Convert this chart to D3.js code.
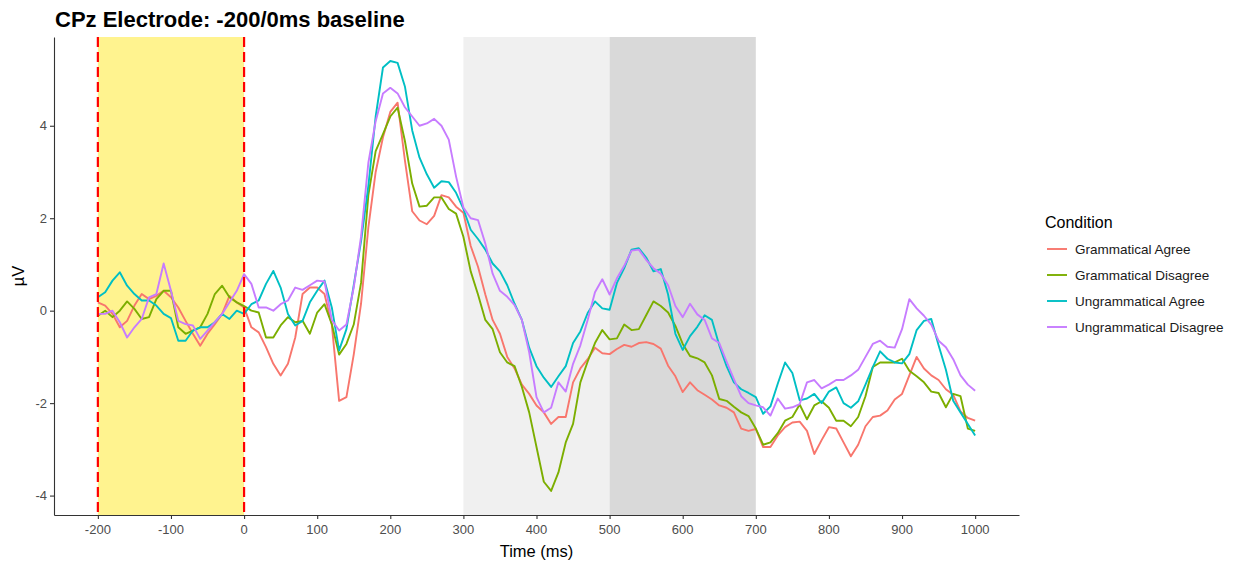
<!DOCTYPE html>
<html>
<head>
<meta charset="utf-8">
<script src="https://cdn.jsdelivr.net/npm/d3@7/dist/d3.min.js"></script>
<style>
    html, body { margin: 0; padding: 0; background: #fff; overflow: hidden; }
    #graph { display: block; }
    svg text { font-family: "Liberation Sans", Arial, sans-serif; }
</style>
</head>
<body>
<svg id="graph"></svg>
<script>
// time points, ms (every 10 ms)
const times = d3.range(-200, 1001, 10);

const conditions = ['Grammatical Agree', 'Grammatical Disagree', 'Ungrammatical Agree', 'Ungrammatical Disagree'];
const colors = ['#F8766D', '#7CAE00', '#00BFC4', '#C77CFF'];

// µV values
const gramAgree = [
    0.18, 0.11, -0.07, -0.36, -0.22, 0.11, 0.36, 0.25, 0.32, 0.43,
    0.29, 0.07, -0.22, -0.50, -0.76, -0.50, -0.29, -0.07, 0.32, 0.18,
    0.07, -0.36, -0.47, -0.79, -1.15, -1.40, -1.15, -0.58, 0.36, 0.50,
    0.50, 0.36, -0.30, -1.95, -1.87, -0.95, 0.15, 1.80, 3.00, 3.75,
    4.30, 4.50, 3.25, 2.15, 1.95, 1.87, 2.05, 2.50, 2.45, 2.25,
    2.12, 1.40, 0.95, 0.35, -0.20, -0.50, -1.00, -1.25, -1.60, -1.80,
    -2.05, -2.20, -2.45, -2.30, -2.30, -1.55, -1.25, -1.05, -0.80, -0.92,
    -0.94, -0.83, -0.74, -0.78, -0.70, -0.68, -0.72, -0.82, -1.19, -1.42,
    -1.76, -1.55, -1.72, -1.82, -1.92, -2.05, -2.10, -2.20, -2.55, -2.60,
    -2.56, -2.95, -2.95, -2.70, -2.52, -2.42, -2.40, -2.60, -3.10, -2.80,
    -2.52, -2.55, -2.85, -3.15, -2.90, -2.50, -2.30, -2.27, -2.16, -1.92,
    -1.80, -1.40, -1.00, -1.25, -1.40, -1.50, -1.70, -1.82, -2.18, -2.32,
    -2.38
];
const gramDisagree = [
    -0.11, 0.00, -0.14, 0.00, 0.20, 0.04, -0.18, -0.14, 0.25, 0.43,
    0.43, -0.36, -0.50, -0.43, -0.36, -0.07, 0.36, 0.54, 0.29, 0.18,
    0.10, 0.00, -0.04, -0.58, -0.58, -0.32, -0.14, -0.25, -0.22, -0.50,
    -0.04, 0.14, -0.29, -0.95, -0.72, -0.30, 0.60, 2.50, 3.45, 3.82,
    4.20, 4.39, 3.67, 2.75, 2.25, 2.27, 2.45, 2.45, 2.20, 2.10,
    1.60, 0.85, 0.35, -0.20, -0.40, -0.90, -1.12, -1.20, -1.65, -2.20,
    -2.95, -3.70, -3.90, -3.50, -2.85, -2.45, -1.55, -1.10, -0.70, -0.42,
    -0.62, -0.60, -0.30, -0.42, -0.40, -0.10, 0.20, 0.10, -0.04, -0.33,
    -0.72, -0.98, -1.03, -1.12, -1.40, -1.91, -1.95, -2.08, -2.20, -2.28,
    -2.55, -2.90, -2.85, -2.65, -2.38, -2.30, -2.03, -2.35, -2.05, -1.96,
    -2.10, -2.38, -2.38, -2.50, -2.30, -1.85, -1.22, -1.12, -1.12, -1.12,
    -1.04, -1.30, -1.42, -1.55, -1.75, -1.78, -2.09, -1.80, -1.85, -2.55,
    -2.60
];
const ungramAgree = [
    0.29, 0.40, 0.65, 0.83, 0.54, 0.36, 0.22, 0.22, 0.11, -0.07,
    -0.16, -0.65, -0.65, -0.43, -0.36, -0.36, -0.25, -0.07, -0.18, 0.00,
    -0.07, 0.14, 0.22, 0.58, 0.86, 0.50, -0.07, -0.32, -0.22, 0.18,
    0.43, 0.65, 0.07, -0.86, -0.40, 0.55, 1.50, 2.70, 4.20, 5.26,
    5.40, 5.36, 4.85, 3.90, 3.31, 2.95, 2.66, 2.80, 2.78, 2.55,
    2.20, 1.75, 1.55, 1.32, 1.02, 0.85, 0.55, 0.15, -0.20, -0.80,
    -1.20, -1.45, -1.65, -1.42, -1.20, -0.70, -0.45, -0.05, 0.20, 0.05,
    0.02, 0.60, 0.92, 1.32, 1.35, 1.15, 0.85, 0.90, 0.35, -0.50,
    -0.85, -0.55, -0.35, -0.10, -0.20, -0.75, -1.20, -1.55, -1.70, -1.78,
    -1.87, -2.23, -2.07, -1.58, -1.12, -1.35, -1.94, -1.90, -1.80, -2.00,
    -1.75, -1.66, -2.00, -2.10, -1.96, -1.60, -1.22, -0.88, -1.04, -1.12,
    -1.14, -0.94, -0.42, -0.22, -0.18, -0.75, -1.28, -1.95, -2.20, -2.45,
    -2.70
];
const ungramDisagree = [
    -0.07, -0.07, 0.00, -0.25, -0.58, -0.36, -0.18, 0.29, 0.36, 1.02,
    0.43, -0.22, -0.29, -0.32, -0.61, -0.43, -0.25, -0.07, 0.18, 0.43,
    0.79, 0.58, 0.07, 0.07, 0.00, 0.14, 0.22, 0.50, 0.45, 0.55,
    0.65, 0.63, -0.20, -0.43, -0.30, 0.50, 1.60, 3.20, 4.10, 4.70,
    4.82, 4.70, 4.40, 4.20, 4.00, 4.05, 4.15, 4.00, 3.70, 2.90,
    2.23, 2.00, 1.96, 1.45, 0.80, 0.43, 0.30, 0.12, -0.20, -0.90,
    -1.87, -2.20, -2.10, -1.55, -1.75, -1.15, -0.75, -0.20, 0.40, 0.68,
    0.35, 0.70, 0.97, 1.30, 1.32, 1.10, 0.92, 0.80, 0.55, 0.10,
    -0.14, 0.15, -0.08, -0.20, -0.60, -0.70, -1.10, -1.48, -1.85, -2.00,
    -2.05, -2.09, -2.27, -1.90, -2.12, -2.09, -2.02, -1.55, -1.50, -1.68,
    -1.60, -1.50, -1.50, -1.40, -1.28, -1.00, -0.72, -0.65, -0.78, -0.80,
    -0.40, 0.25, 0.05, -0.11, -0.30, -0.65, -0.79, -1.05, -1.40, -1.60,
    -1.73
];
const seriesValues = [gramAgree, gramDisagree, ungramAgree, ungramDisagree];

// shaded windows [start, end, fill]
const windows = [[-200, 0, '#FFF38F'], [300, 500, '#F0F0F0'], [500, 700, '#D9D9D9']];
const baselineMarks = [-200, 0];

const xTicks = d3.range(-200, 1001, 100);
const yTicks = [-4, -2, 0, 2, 4];

const width = 1242, height = 565;
const margin = { top: 37, right: 223, bottom: 50, left: 54 };
const innerWidth = width - margin.left - margin.right;
const innerHeight = height - margin.top - margin.bottom;

const svg = d3.select('#graph')
    .attr('width', width)
    .attr('height', height);

// ggplot style 5% expansion
const xScale = d3.scaleLinear()
    .domain([-260, 1060])
    .range([margin.left, margin.left + innerWidth]);
const yScale = d3.scaleLinear()
    .domain([-4.42, 5.92])
    .range([margin.top + innerHeight, margin.top]);

const plotTop = margin.top, plotBottom = margin.top + innerHeight;

svg.selectAll('.window').data(windows).enter().append('rect')
    .attr('class', 'window')
    .attr('x', d => xScale(d[0]))
    .attr('width', d => xScale(d[1]) - xScale(d[0]))
    .attr('y', plotTop)
    .attr('height', innerHeight)
    .attr('fill', d => d[2]);

const line = d3.line()
    .x((d, i) => xScale(times[i]))
    .y(d => yScale(d));

svg.selectAll('.erp').data(seriesValues).enter().append('path')
    .attr('class', 'erp')
    .attr('d', line)
    .attr('fill', 'none')
    .attr('stroke', (d, i) => colors[i])
    .attr('stroke-width', 1.9)
    .attr('stroke-linejoin', 'round');

svg.selectAll('.vmark').data(baselineMarks).enter().append('line')
    .attr('class', 'vmark')
    .attr('x1', d => xScale(d))
    .attr('x2', d => xScale(d))
    .attr('y1', plotTop)
    .attr('y2', plotBottom)
    .attr('stroke', '#FF0000')
    .attr('stroke-width', 2.2)
    .attr('stroke-dasharray', '10,5');

// axes: d3 draws line + ticks, labels are placed by hand from the same scales
const xAxis = d3.axisBottom(xScale).tickValues(xTicks).tickFormat('').tickSize(4).tickSizeOuter(0);
const yAxis = d3.axisLeft(yScale).tickValues(yTicks).tickFormat('').tickSize(4).tickSizeOuter(0);

const gx = svg.append('g')
    .attr('transform', `translate(0, ${plotBottom})`)
    .call(xAxis);
const gy = svg.append('g')
    .attr('transform', `translate(${margin.left}, 0)`)
    .call(yAxis);

[gx, gy].forEach(g => {
    g.select('.domain').attr('stroke', '#333').attr('stroke-width', 1.1);
    g.selectAll('.tick line').attr('stroke', '#333').attr('stroke-width', 1.1);
    g.selectAll('.tick text').remove();
});

svg.selectAll('.xlab').data(xTicks).enter().append('text')
    .attr('class', 'xlab')
    .attr('x', d => xScale(d))
    .attr('y', plotBottom + 19)
    .attr('text-anchor', 'middle')
    .attr('fill', '#4D4D4D')
    .style('font-size', '13px')
    .text(d => d);

svg.selectAll('.ylab').data(yTicks).enter().append('text')
    .attr('class', 'ylab')
    .attr('x', margin.left - 7)
    .attr('y', d => yScale(d) + 4.5)
    .attr('text-anchor', 'end')
    .attr('fill', '#4D4D4D')
    .style('font-size', '13px')
    .text(d => d);

// titles
svg.append('text')
    .attr('x', 55)
    .attr('y', 27)
    .style('font-size', '22px')
    .style('font-weight', 'bold')
    .text('CPz Electrode: -200/0ms baseline');

svg.append('text')
    .attr('x', margin.left + innerWidth / 2)
    .attr('y', 557)
    .attr('text-anchor', 'middle')
    .style('font-size', '16.5px')
    .text('Time (ms)');

svg.append('text')
    .attr('transform', `translate(24, ${plotTop + innerHeight / 2}) rotate(-90)`)
    .attr('text-anchor', 'middle')
    .style('font-size', '16.5px')
    .text('µV');

// legend
const legend = svg.append('g').attr('transform', 'translate(1045, 0)');
legend.append('text')
    .attr('x', 0)
    .attr('y', 228)
    .style('font-size', '16px')
    .text('Condition');

const item = legend.selectAll('.item').data(conditions).enter().append('g')
    .attr('class', 'item')
    .attr('transform', (d, i) => `translate(0, ${249 + i * 26})`);
item.append('line')
    .attr('x1', 2).attr('x2', 22)
    .attr('stroke', (d, i) => colors[i])
    .attr('stroke-width', 1.9);
item.append('text')
    .attr('x', 30)
    .attr('y', 5)
    .style('font-size', '13.5px')
    .attr('fill', '#1a1a1a')
    .text(d => d);
</script>
</body>
</html>
